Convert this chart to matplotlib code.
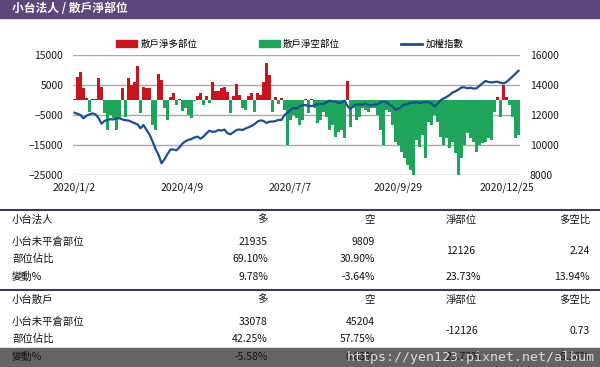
import numpy as np
import matplotlib
matplotlib.use('Agg')
import matplotlib.pyplot as plt
from matplotlib.lines import Line2D
from matplotlib.patches import Rectangle, Patch

plt.rcParams['font.family'] = ['Noto Sans CJK TC', 'DejaVu Sans']

# 散戶淨部位 (口), one value per bar
net = [500, 7800, 9200, 4000, 800, -3900, 400, 300, 7200, 4500,
       -4400, -10000, -5000, -6000, -10000, -6100, 3900, -5500, 7500, 5000,
       6100, 11300, -4400, 4200, 3900, 3900, -8300, -10000, 8700, 6700,
       -2800, -6700, 1100, 2500, -1500, 400, -3700, -2800, -5000, -6100,
       -300, 1400, 2200, -1500, 1400, -1100, 5900, 3000, 3000, 3900,
       4200, 2800, -4400, 1200, 5500, 1700, -2800, -3300, 1500, 2200,
       -3900, 2400, 1700, 6100, 12200, 8300, -3900, 1100, -1200, 800,
       -3300, -15000, -6700, -5000, -6100, -8300, -6700, 400, -4400, 400,
       -2800, -7800, -6700, -3900, -5500, -10000, -8300, -12200, -10500, -10000,
       -12800, 6300, -8900, -2800, -6700, -5500, -2800, -3300, -3900, -2600,
       -2500, -5000, -10000, -15000, -3300, -3900, -8300, -13900, -15000, -17200,
       -19400, -21700, -23300, -25000, -13300, -15500, -11700, -19400, -7200, -8300,
       -5000, -7200, -12200, -15000, -12800, -16100, -13900, -17800, -25000, -19400,
       -15000, -11100, -12800, -13900, -17200, -15000, -14400, -13900, -12800, -13300,
       -3900, 1100, -5500, 5000, 1100, -1700, -5500, -12800, -11700]

# 加權指數
taiex = [12150, 12080, 12000, 11780, 11950, 12050, 12110, 12050, 11800, 11420,
         11600, 11680, 11720, 11700, 11780, 11780, 11700, 11650, 11630, 11550,
         11450, 11380, 11110, 11330, 11000, 10700, 10250, 9750, 9350, 8780,
         9050, 9400, 9700, 9700, 9650, 9850, 10100, 10250, 10350, 10400,
         10500, 10560, 10420, 10560, 10780, 10950, 10880, 10900, 11000, 10960,
         11030, 10780, 10720, 10850, 11000, 11030, 11000, 11100, 11180, 11270,
         11390, 11560, 11640, 11600, 11470, 11560, 11560, 11600, 11670, 11670,
         12000, 12150, 12330, 12480, 12420, 12560, 12650, 12660, 12600, 12600,
         12640, 12730, 12730, 12730, 12850, 12960, 12900, 12890, 12800, 12830,
         12960, 12600, 12400, 12600, 12700, 12700, 12680, 12760, 12670, 12650,
         12700, 12720, 12850, 12900, 12850, 12700, 12560, 12350, 12430, 12560,
         12690, 12720, 12830, 12800, 12870, 12800, 12840, 12850, 12850, 12780,
         12560, 12750, 12980, 13100, 13200, 13330, 13500, 13580, 13700, 13840,
         13840, 13780, 13820, 13760, 13780, 13950, 14110, 14270, 14200, 14170,
         14200, 14220, 14150, 14110, 14200, 14380, 14560, 14750, 14950]

tick_pos = [0, 36, 72, 108, 144]
tick_labels = ['2020/1/2', '2020/4/9', '2020/7/7', '2020/9/29', '2020/12/25']

# table
headers = ['多', '空', '淨部位', '多空比']
row_labels = ['小台未平倉部位', '部位佔比', '變動%']
inst_long = ['21935', '69.10%', '9.78%']
inst_short = ['9809', '30.90%', '-3.64%']
inst_net = ['12126', '23.73%']
inst_ratio = ['2.24', '13.94%']
retail_long = ['33078', '42.25%', '-5.58%']
retail_short = ['45204', '57.75%', '0.83%']
retail_net = ['-12126', '23.73%']
retail_ratio = ['0.73', '-6.36%']

W, H = 600, 367
fig = plt.figure(figsize=(6, 3.67), dpi=100)

def fx(x):
    return x / W

def fy(y):
    return 1 - y / H

# title bar
fig.patches.append(Rectangle((0, fy(18)), 1, 18 / H, transform=fig.transFigure,
                             color='#5b477b', zorder=0))
fig.text(fx(12), fy(9), '小台法人 / 散戶淨部位', color='white', fontsize=8.5,
         fontweight='bold', va='center')

RED = '#c8141c'
GREEN = '#1fa45c'
BLUE = '#1b4f93'

ax = fig.add_axes([fx(73), fy(175), 447 / W, 120 / H])
net = np.array(net)
x = np.arange(len(net))
pos = net >= 0
ax.bar(x[pos], net[pos], width=1.0, color=RED, linewidth=0)
ax.bar(x[~pos], net[~pos], width=1.0, color=GREEN, linewidth=0)
ax.set_xlim(-0.5, len(net) - 0.5)
ax.set_ylim(-25000, 15000)
ax.set_yticks(range(-25000, 15001, 10000))
ax.set_xticks(tick_pos)
ax.set_xticklabels(tick_labels)
ax.yaxis.grid(True, color='#a8a8a8', lw=1)
ax.set_axisbelow(True)
ax.tick_params(axis='y', length=0, pad=7, labelsize=7.5, colors='#1a1a1a')
ax.tick_params(axis='x', length=0, pad=5.5, labelsize=7.5, colors='#1a1a1a')
for s in ax.spines.values():
    s.set_visible(False)

ax2 = ax.twinx()
ax2.plot(x, taiex, color=BLUE, lw=1.6)
ax2.set_ylim(8000, 16000)
ax2.set_yticks(range(8000, 16001, 2000))
ax2.tick_params(axis='y', length=0, pad=7, labelsize=7.5, colors='#1a1a1a')
for s in ax2.spines.values():
    s.set_visible(False)

handles = [Patch(color=RED), Patch(color=GREEN), Line2D([], [], color=BLUE, lw=2)]
fig.legend(handles, ['散戶淨多部位', '散戶淨空部位', '加權指數'], loc='center',
           bbox_to_anchor=(fx(290), fy(44)), ncol=3, frameon=False, fontsize=6.8,
           handlelength=2.2, handleheight=0.7, handletextpad=0.35, columnspacing=6.5)

# watermark band
fig.patches.append(Rectangle((0, 0), 1, 19 / H, transform=fig.transFigure,
                             color='#646464', zorder=0))


def hline(y, color='#3a3a55', lw=1.5):
    fig.add_artist(Line2D([0, 1], [fy(y), fy(y)], color=color, lw=lw,
                          transform=fig.transFigure))


def txt(x, y, s, ha='left'):
    fig.text(fx(x), fy(y), s, ha=ha, va='center', fontsize=7.5, color='#151515')


def block(top, title, longs, shorts, nets, ratios):
    hline(top)
    ys = [top + 32, top + 49, top + 67]
    hy = top + 10
    txt(12, hy, title)
    txt(268, hy, headers[0], 'right')
    txt(375, hy, headers[1], 'right')
    txt(446, hy, headers[2])
    txt(590, hy, headers[3], 'right')
    for i, lab in enumerate(row_labels):
        txt(12, ys[i], lab)
        txt(268, ys[i], longs[i], 'right')
        txt(375, ys[i], shorts[i], 'right')
    mid = (ys[0] + ys[1]) / 2
    txt(446, mid, nets[0])
    txt(590, mid, ratios[0], 'right')
    txt(446, ys[2], nets[1])
    txt(590, ys[2], ratios[1], 'right')


block(210, '小台法人', inst_long, inst_short, inst_net, inst_ratio)
block(290, '小台散戶', retail_long, retail_short, retail_net, retail_ratio)

fig.text(fx(347), fy(357), 'https://yen123.pixnet.net/album', fontsize=9.5,
         family='DejaVu Sans Mono', color='#dcdcdc', va='center')

fig.savefig('out.png', dpi=100)
